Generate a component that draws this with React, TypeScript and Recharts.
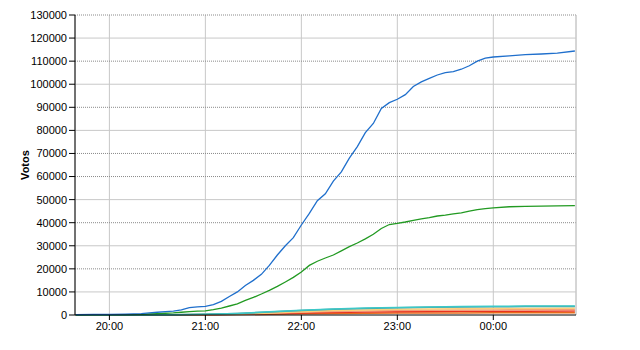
import { LineChart, Line, XAxis, YAxis, CartesianGrid, ReferenceLine } from 'recharts'

// minutes after 19:00
const xTicks = [60, 120, 180, 240, 300]
const yTicks = [0, 10000, 20000, 30000, 40000, 50000, 60000, 70000, 80000, 90000, 100000, 110000, 120000, 130000]
const dottedRows = [130000, 110000, 90000, 70000, 60000, 40000, 20000]
const solidRows = [120000, 100000, 80000, 50000, 30000, 10000]

const bigTimes = [39, 50, 60, 70, 80, 85, 90, 95, 100, 105, 110, 115, 120, 125, 130, 135, 140, 145, 150, 155, 160, 165, 170, 175, 180, 185, 190, 195, 200, 205, 210, 215, 220, 225, 230, 235, 240, 245, 250, 255, 260, 265, 270, 275, 280, 285, 290, 295, 300, 310, 320, 330, 340, 351]
const blueVotes = [200, 250, 300, 400, 600, 900, 1200, 1500, 1700, 2200, 3200, 3500, 3700, 4500, 5900, 8000, 10000, 12800, 15000, 17600, 21500, 26000, 30000, 33500, 39000, 44000, 49500, 52500, 58000, 62000, 68000, 73000, 79000, 83000, 89500, 92000, 93500, 95500, 99000, 101000, 102500, 104000, 105000, 105500, 106500, 108000, 110000, 111300, 111800, 112300, 112800, 113100, 113500, 114400]
const greenVotes = [100, 120, 150, 200, 300, 450, 600, 750, 900, 1200, 1500, 1700, 1800, 2300, 3000, 3900, 4800, 6300, 7600, 9100, 10700, 12400, 14300, 16300, 18600, 21500, 23300, 24700, 26000, 27800, 29600, 31200, 33000, 35000, 37500, 39200, 39700, 40300, 41000, 41700, 42200, 42900, 43300, 43800, 44300, 45000, 45700, 46100, 46400, 46900, 47100, 47200, 47300, 47400]

const smallTimes = [39, 80, 100, 120, 140, 160, 180, 200, 220, 240, 260, 280, 300, 320, 351]
const cyanVotes = [0, 50, 150, 300, 700, 1400, 2100, 2600, 3000, 3300, 3500, 3700, 3800, 3850, 3900]
const tealVotes = [0, 40, 130, 280, 650, 1300, 1950, 2450, 2850, 3150, 3350, 3500, 3600, 3650, 3700]
const yellowVotes = [0, 30, 100, 200, 450, 900, 1400, 1900, 2200, 2500, 2650, 2750, 2800, 2850, 2900]
const salmonVotes = [0, 20, 80, 170, 380, 750, 1150, 1500, 1750, 1950, 2050, 2150, 2200, 2250, 2250]
const redVotes = [0, 10, 50, 120, 280, 550, 850, 1100, 1300, 1450, 1550, 1600, 1650, 1650, 1700]
const orangeVotes = [0, 10, 30, 80, 180, 350, 550, 700, 800, 850, 900, 920, 940, 950, 950]

const bigData = bigTimes.map((t, i) => ({ t, blue: blueVotes[i], green: greenVotes[i] }))
const smallData = smallTimes.map((t, i) => ({
  t,
  cyan: cyanVotes[i],
  teal: tealVotes[i],
  yellow: yellowVotes[i],
  salmon: salmonVotes[i],
  red: redVotes[i],
  orange: orangeVotes[i],
}))

const font = '"Liberation Sans", Arial, sans-serif'

const fmtTime = (m: number) => {
  const h = (19 + Math.floor(m / 60)) % 24
  return `${String(h).padStart(2, '0')}:00`
}

const smallSeries = [
  { key: 'orange', color: '#e86a1a' },
  { key: 'red', color: '#e8321e' },
  { key: 'salmon', color: '#f59a7a' },
  { key: 'yellow', color: '#fbcf78' },
  { key: 'teal', color: '#4a9a9a' },
  { key: 'cyan', color: '#3cc8c8' },
]

export default function App() {
  return (
    <div style={{ position: 'absolute', left: 0, top: 0, background: '#fff' }}>
      <LineChart width={640} height={350} margin={{ top: 15, right: 64, bottom: 5, left: 0 }}>
        <CartesianGrid horizontal={false} stroke="#c8c8c8" />
        {solidRows.map((v) => (
          <ReferenceLine key={'s' + v} y={v} stroke="#c8c8c8" />
        ))}
        {dottedRows.map((v) => (
          <ReferenceLine key={'d' + v} y={v} stroke="#8a8a8a" strokeDasharray="1 1" />
        ))}
        <ReferenceLine x={351.7} stroke="#c8c8c8" />
        <XAxis
          dataKey="t"
          type="number"
          domain={[38.5, 351.7]}
          allowDataOverflow
          ticks={xTicks}
          tickFormatter={fmtTime}
          stroke="#000"
          tickSize={5}
          height={30}
          tick={{ fill: '#000', fontSize: 11, fontFamily: font }}
        />
        <YAxis
          type="number"
          domain={[0, 130000]}
          ticks={yTicks}
          interval={0}
          width={75}
          stroke="#000"
          tickSize={6}
          tick={{ fill: '#000', fontSize: 11, fontFamily: font }}
          label={({ viewBox }: any) => (
            <text
              x={viewBox.x + 25}
              y={viewBox.y + viewBox.height / 2}
              transform={`rotate(-90 ${viewBox.x + 25} ${viewBox.y + viewBox.height / 2})`}
              textAnchor="middle"
              dominantBaseline="central"
              fontFamily={font}
              fontSize={11}
              fontWeight="bold"
              fill="#000"
            >
              Votos
            </text>
          )}
        />
        {smallSeries.map((s) => (
          <Line
            key={s.key}
            data={smallData}
            dataKey={s.key}
            type="linear"
            stroke={s.color}
            strokeWidth={1.5}
            dot={false}
            isAnimationActive={false}
          />
        ))}
        <Line data={bigData} dataKey="green" type="linear" stroke="#229a22" strokeWidth={1.3} dot={false} isAnimationActive={false} />
        <Line data={bigData} dataKey="blue" type="linear" stroke="#1f6fcc" strokeWidth={1.3} dot={false} isAnimationActive={false} />
      </LineChart>
    </div>
  )
}
